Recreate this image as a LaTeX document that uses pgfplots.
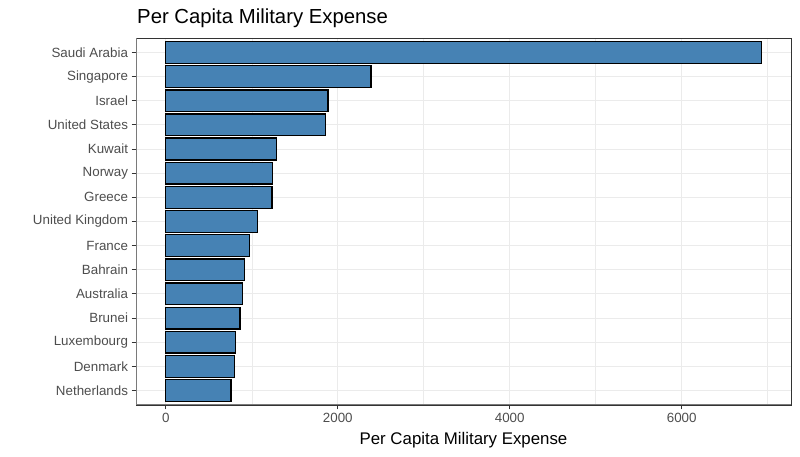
\documentclass[border=0pt]{standalone}
\usepackage{pgfplots}
\pgfplotsset{compat=1.18}
\usepackage{fontspec}
\setmainfont{Liberation Sans}
\definecolor{steelblue}{HTML}{4682B4}
\definecolor{grid92}{HTML}{EBEBEB}
\definecolor{g20}{HTML}{333333}
\definecolor{g30}{HTML}{4D4D4D}
\definecolor{gaxis}{HTML}{7A7A7A}
\begin{document}
\begin{tikzpicture}[x=1bp,y=1bp]
\path[use as bounding box] (0,0) rectangle (800,457);
\begin{axis}[
  at={(136bp,52bp)}, anchor=south west,
  scale only axis, width=655bp, height=367bp,
  xbar, bar width=0.9,
  xmin=-346.25, xmax=7271, ymin=-0.6, ymax=14.6, y dir=reverse,
  ytick={0,...,14},
  yticklabels={Saudi Arabia,Singapore,Israel,United States,Kuwait,Norway,Greece,United Kingdom,France,Bahrain,Australia,Brunei,Luxembourg,Denmark,Netherlands},
  xtick={0,2000,4000,6000}, minor xtick={1000,3000,5000,7000},
  xtick pos=bottom, ytick pos=left,
  xmajorgrids, xminorgrids, ymajorgrids,
  major grid style={grid92, line width=1.07bp},
  minor grid style={grid92, line width=0.53bp},
  tick align=outside, major tick length=4.5bp, minor tick length=0pt,
  tick style={g20, line width=1.07bp},
  axis line style={g20, line width=0.6bp},
  /pgf/number format/assume math mode=true,
  /pgf/number format/set thousands separator={},
  xticklabel style={font=\fontsize{13.4}{16}\selectfont, text=g30},
  yticklabel style={font=\fontsize{13.4}{16}\selectfont, text=g30},
  xlabel={Per Capita Military Expense},
  xlabel style={font=\fontsize{16.9}{20}\selectfont, at={(axis description cs:0.5,0)}, anchor=base, yshift=-40bp},
]
\addplot[fill=steelblue, draw=black, line width=1.4bp] coordinates {
(6925,0) (2387,1) (1887,2) (1856,3) (1291,4) (1244,5) (1233,6) (1065,7) (977,8) (914,9) (895,10) (864,11) (810,12) (802,13) (759,14)
};
\draw[gaxis, line width=1.5bp] (rel axis cs:0,1) -- (rel axis cs:0,0) -- (rel axis cs:1,0);
\end{axis}
\node[anchor=base west, inner sep=0pt, font=\fontsize{20.4}{24}\selectfont] at (137,433) {Per Capita Military Expense};
\end{tikzpicture}
\end{document}
